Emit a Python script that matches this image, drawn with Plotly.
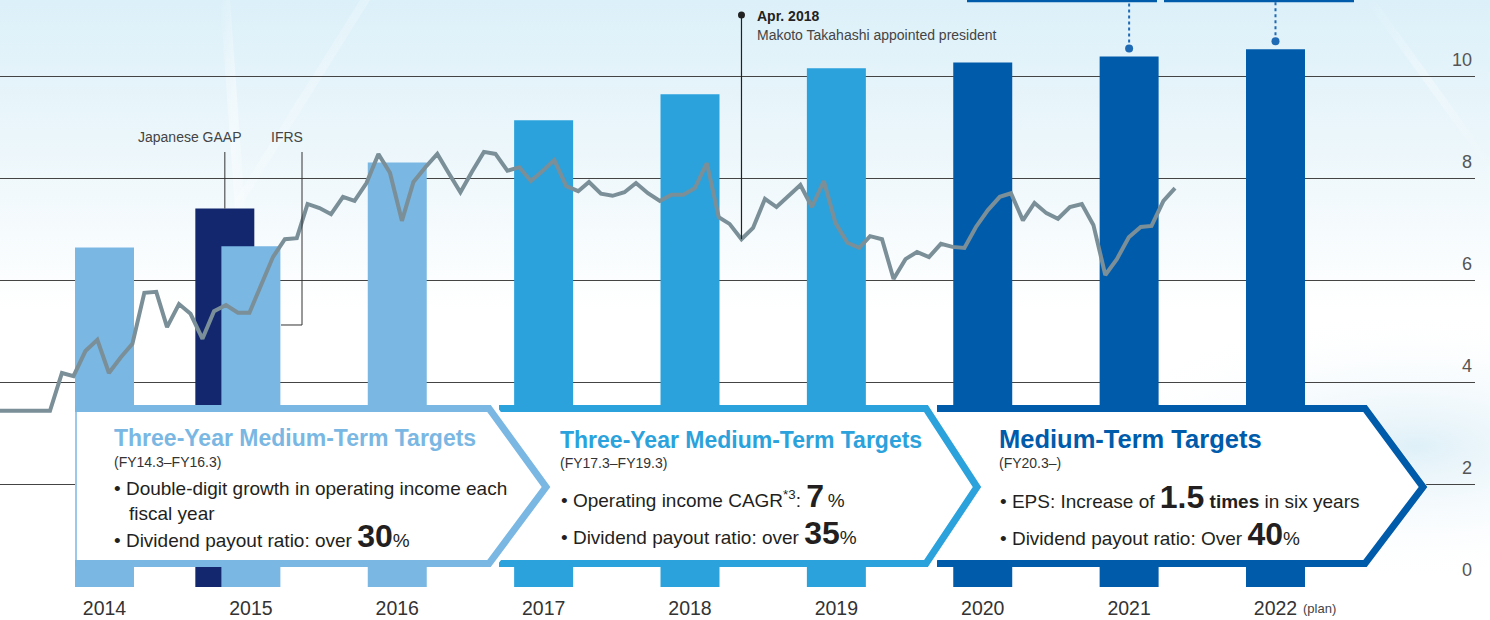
import base64
import pandas as pd
import plotly.graph_objects as go

# ---------------- data ----------------
years = ["2014", "2015", "2016", "2017", "2018", "2019", "2020", "2021", "2022"]
bar_values = [6.65, 6.67, 8.31, 9.14, 9.65, 10.16, 10.27, 10.39, 10.53]   # 2015 = IFRS
jgaap_2015 = 7.41                                                          # 2015 Japanese GAAP
bar_colors = ["#7ab7e3", "#7ab7e3", "#7ab7e3",
              "#2ba2dc", "#2ba2dc", "#2ba2dc",
              "#005bab", "#005bab", "#005bab"]
y_ticks = [0, 2, 4, 6, 8, 10]

line_start = "2012-12-01"          # monthly series
line_values = [
    3.45, 3.45, 3.45, 3.45, 3.45, 3.45, 4.19, 4.13, 4.62, 4.84,
    4.19, 4.50, 4.76, 5.76, 5.78, 5.09, 5.54, 5.35, 4.86, 5.40,
    5.52, 5.37, 5.37, 5.91, 6.46, 6.81, 6.83, 7.50, 7.42, 7.30,
    7.64, 7.56, 7.91, 8.48, 8.11, 7.17, 7.93, 8.22, 8.48, 8.11,
    7.73, 8.13, 8.52, 8.48, 8.15, 8.22, 7.95, 8.15, 8.36, 7.85,
    7.75, 7.93, 7.70, 7.66, 7.73, 7.91, 7.71, 7.56, 7.68, 7.68,
    7.81, 8.30, 7.24, 7.11, 6.81, 7.03, 7.60, 7.44, 7.66, 7.87,
    7.44, 7.95, 7.13, 6.74, 6.64, 6.87, 6.81, 6.03, 6.42, 6.56,
    6.46, 6.72, 6.66, 6.64, 7.05, 7.38, 7.64, 7.71, 7.18, 7.52,
    7.32, 7.21, 7.44, 7.50, 7.09, 6.11, 6.42, 6.85, 7.05, 7.07,
    7.56, 7.81,
]
event_month = "2018-04-01"
callout_years = ["2021", "2022"]

# ---------------- layout constants ----------------
W, H = 1490, 620
ML, MR, MT, MB = 0, 15, 0, 33
PW, PH = W - ML - MR, H - MT - MB
PX_PER_UNIT = 51.07
Y_MAX = PH / PX_PER_UNIT
X_RANGE = [-0.714, 9.363]
BAR_W = 0.403
NAVY_SHIFT = -0.178

C1, C2, C3, NAVY = "#7ab7e3", "#2ba2dc", "#005bab", "#13276f"
LINE_C = "#7a8f98"
TXT = "#231f20"
FONT = "Liberation Sans, Arial, Helvetica, sans-serif"


def px(x):
    return (x - ML) / PW


def py(y):
    return 1 - (y - MT) / PH


def vy(y):  # pixel y -> data value
    return (MT + PH - y) / PX_PER_UNIT


def path(pts, close=False):
    s = "M " + " L ".join(f"{px(x):.5f},{py(y):.5f}" for x, y in pts)
    return s + (" Z" if close else "")


months = pd.date_range(line_start, periods=len(line_values), freq="MS")
# line x-axis calibration (month 5 at 50 px, month 101 at 1175 px)
d0, d1 = months[5], months[101]
ppd = (1175 - 50) / (d1 - d0).days
x2_range = [d0 - pd.Timedelta(days=(50 - 0) / ppd), d0 + pd.Timedelta(days=(PW - 50) / ppd)]

fig = go.Figure()
fig.add_trace(go.Bar(x=["2015"], y=[jgaap_2015], width=BAR_W, offset=NAVY_SHIFT - BAR_W / 2,
                     marker=dict(color=NAVY, line=dict(width=0)), hoverinfo="skip"))
fig.add_trace(go.Bar(x=years, y=bar_values, width=BAR_W,
                     marker=dict(color=bar_colors, line=dict(width=0)), hoverinfo="skip"))
fig.add_trace(go.Scatter(x=months, y=line_values, xaxis="x2", yaxis="y", mode="lines",
                         line=dict(color=LINE_C, width=4), hoverinfo="skip"))

shapes = []


def add_box(fill_pts, border_pts, color, halo_pts=None):
    shapes.append(dict(type="path", xref="paper", yref="paper", path=path(fill_pts, True),
                       fillcolor="white", line=dict(width=0), layer="above"))
    if halo_pts:
        shapes.append(dict(type="path", xref="paper", yref="paper", path=path(halo_pts),
                           line=dict(color="white", width=15), layer="above"))
    shapes.append(dict(type="path", xref="paper", yref="paper", path=path(border_pts),
                       line=dict(color=color, width=7), layer="above"))


TOP, BOT, MID = 405, 567, 487
add_box([(933, TOP), (1367, TOP), (1428, MID), (1367, BOT), (933, BOT)],
        [(937, TOP + 3.5), (1365, TOP + 3.5), (1423, MID), (1365, BOT - 3.5), (937, BOT - 3.5)], C3)
add_box([(495, TOP), (928, TOP), (982, MID), (928, BOT), (495, BOT)],
        [(499, TOP + 3.5), (926, TOP + 3.5), (977, MID), (926, BOT - 3.5), (499, BOT - 3.5)], C2,
        halo_pts=[(926, TOP + 3.5), (977, MID), (926, BOT - 3.5)])
add_box([(75, TOP), (491, TOP), (551, MID), (491, BOT), (75, BOT)],
        [(75, TOP + 3.5), (489, TOP + 3.5), (546, MID), (489, BOT - 3.5), (75, BOT - 3.5)], C1,
        halo_pts=[(489, TOP + 3.5), (546, MID), (489, BOT - 3.5)])
shapes.append(dict(type="line", xref="paper", yref="paper", x0=px(76), x1=px(76), y0=py(TOP), y1=py(BOT),
                   line=dict(color=C1, width=1.5), layer="above"))

# accounting-standard connectors
shapes.append(dict(type="line", xref="x", yref="y", x0=1 + NAVY_SHIFT, x1=1 + NAVY_SHIFT,
                   y0=jgaap_2015, y1=vy(152), line=dict(color="#333", width=1), layer="above"))
shapes.append(dict(type="path", xref="paper", yref="paper",
                   path=path([(302, 152), (302, 325), (281, 325)]),
                   line=dict(color="#333", width=1), layer="above"))

# Apr. 2018 marker
shapes.append(dict(type="line", xref="x2", yref="y", x0=event_month, x1=event_month,
                   y0=line_values[list(months.strftime("%Y-%m-%d")).index(event_month)], y1=vy(15),
                   line=dict(color="#222", width=1.2), layer="above"))
shapes.append(dict(type="circle", xref="x2", yref="paper", xsizemode="pixel", ysizemode="pixel",
                   xanchor=event_month, yanchor=py(15), x0=-3.5, x1=3.5, y0=-3.5, y1=3.5,
                   fillcolor="#222", line=dict(width=0), layer="above"))

# dotted call-outs above 2021 / 2022 (category positions by index)
for yr in callout_years:
    i = years.index(yr)
    v = bar_values[i]
    shapes.append(dict(type="line", xref="x", yref="y", x0=i, x1=i, y0=v + 8 / PX_PER_UNIT, y1=Y_MAX,
                       line=dict(color="#1f6ab4", width=2, dash="dot"), layer="above"))
    shapes.append(dict(type="circle", xref="x", yref="y", xsizemode="pixel", ysizemode="pixel",
                       xanchor=i, yanchor=v, x0=-4, x1=4, y0=4, y1=12,
                       fillcolor="#1f6ab4", line=dict(width=0), layer="above"))
# cut-off frames at the very top
for a, b in [(967, 1157), (1164, 1354)]:
    shapes.append(dict(type="line", xref="paper", yref="paper", x0=px(a), x1=px(b), y0=py(1), y1=py(1),
                       line=dict(color=C3, width=2.5), layer="above"))

annotations = []


def txt(x, baseline, text, size, color=TXT, anchor="left", big=None, xref="paper", xshift=0):
    ref = big if big else size
    center = baseline - 0.3465 * ref
    annotations.append(dict(x=px(x) if xref == "paper" else x, xref=xref, y=py(center), yref="paper",
                            text=text, showarrow=False, xanchor=anchor, yanchor="middle",
                            xshift=xshift, borderpad=0,
                            font=dict(family=FONT, size=size, color=color)))


BIG = 32


def big(s):
    return f'<span style="font-size:{BIG}px"><b>{s}</b></span>'


BODY = 19
# box 1
txt(113, 446, "<b>Three-Year Medium-Term Targets</b>", 23, C1)
txt(113, 467, "(FY14.3–FY16.3)", 14, "#333")
txt(113, 495, "• Double-digit growth in operating income each", BODY)
txt(128, 520, "fiscal year", BODY)
txt(113, 547, "• Dividend payout ratio: over " + big("30") + "%", BODY, big=BIG)
# box 2
txt(559, 447.5, "<b>Three-Year Medium-Term Targets</b>", 23, C2)
txt(559, 468, "(FY17.3–FY19.3)", 14, "#333")
txt(560, 507, "• Operating income CAGR<sup>*3</sup>: " + big("7") + "\u2009%", BODY, big=BIG)
txt(560, 544, "• Dividend payout ratio: over " + big("35") + "%", BODY, big=BIG)
# box 3
txt(998, 448, "<b>Medium-Term Targets</b>", 25.5, C3)
txt(998, 468, "(FY20.3–)", 14, "#333")
txt(999, 508, "• EPS: Increase of " + big("1.5") + " <b>times</b> in six years", BODY, big=BIG)
txt(999, 545, "• Dividend payout ratio: Over " + big("40") + "%", BODY, big=BIG)

# small labels
txt(190, 142, "Japanese GAAP", 14, "#444", anchor="center")
txt(287, 142, "IFRS", 14, "#444", anchor="center")
txt(event_month, 21, "<b>Apr. 2018</b>", 14, "#222", xref="x2", xshift=15)
txt(event_month, 40, "Makoto Takahashi appointed president", 14, "#444", xref="x2", xshift=15)
txt(len(years) - 1, 613, "(plan)", 13, "#444", xref="x", xshift=27)

# background
svg = f'''<svg xmlns="http://www.w3.org/2000/svg" width="{W}" height="{H}" viewBox="0 0 {W} {H}">
<defs>
<linearGradient id="v" x1="0" y1="0" x2="0" y2="1">
<stop offset="0" stop-color="#dcf0f9"/>
<stop offset="0.25" stop-color="#edf7fb"/>
<stop offset="0.5" stop-color="#ffffff"/>
<stop offset="1" stop-color="#ffffff"/>
</linearGradient>
<linearGradient id="s" x1="0" y1="0" x2="1" y2="1">
<stop offset="0" stop-color="#ffffff" stop-opacity="0"/>
<stop offset="0.5" stop-color="#ffffff" stop-opacity="0.45"/>
<stop offset="1" stop-color="#ffffff" stop-opacity="0"/>
</linearGradient>
<radialGradient id="r" cx="0.95" cy="0.72" r="0.22">
<stop offset="0" stop-color="#dff0f8" stop-opacity="1"/>
<stop offset="1" stop-color="#ffffff" stop-opacity="0"/>
</radialGradient>
</defs>
<rect width="{W}" height="{H}" fill="url(#v)"/>
<rect width="{W}" height="{H}" fill="url(#r)"/>
<polygon points="220,0 230,0 248,250 238,250" fill="url(#s)"/>
<polygon points="360,0 370,0 245,200 235,200" fill="url(#s)" opacity="0.5"/>
<polygon points="1365,0 1375,0 1490,160 1490,172" fill="url(#s)" opacity="0.7"/>
</svg>'''
bg = "data:image/svg+xml;base64," + base64.b64encode(svg.encode()).decode()

fig.update_layout(
    width=W, height=H, margin=dict(l=ML, r=MR, t=MT, b=MB),
    paper_bgcolor="white", plot_bgcolor="rgba(0,0,0,0)",
    barmode="overlay", showlegend=False,
    font=dict(family=FONT, color=TXT),
    xaxis=dict(type="category", categoryorder="array", categoryarray=years, range=X_RANGE,
               showgrid=False, zeroline=False, showline=False,
               ticks="", tickfont=dict(size=19.5, color="#333"), ticklabelstandoff=7, fixedrange=True),
    xaxis2=dict(type="date", overlaying="x", range=x2_range, visible=False, fixedrange=True),
    yaxis=dict(range=[0, Y_MAX], tickvals=y_ticks, side="right", showgrid=True, gridcolor="#444",
               gridwidth=1, zeroline=False, showline=False, ticks="",
               ticklabelposition="inside", ticklabelshift=-17,
               tickfont=dict(size=18, color="#555"), fixedrange=True),
    shapes=shapes, annotations=annotations,
    images=[dict(source=bg, xref="paper", yref="paper", x=0, y=1, sizex=W / PW, sizey=H / PH,
                 xanchor="left", yanchor="top", sizing="stretch", layer="below")],
)
fig.write_html("out.html", config={"displayModeBar": False},
               post_script="document.body.style.margin='0';document.body.style.overflow='hidden';")
